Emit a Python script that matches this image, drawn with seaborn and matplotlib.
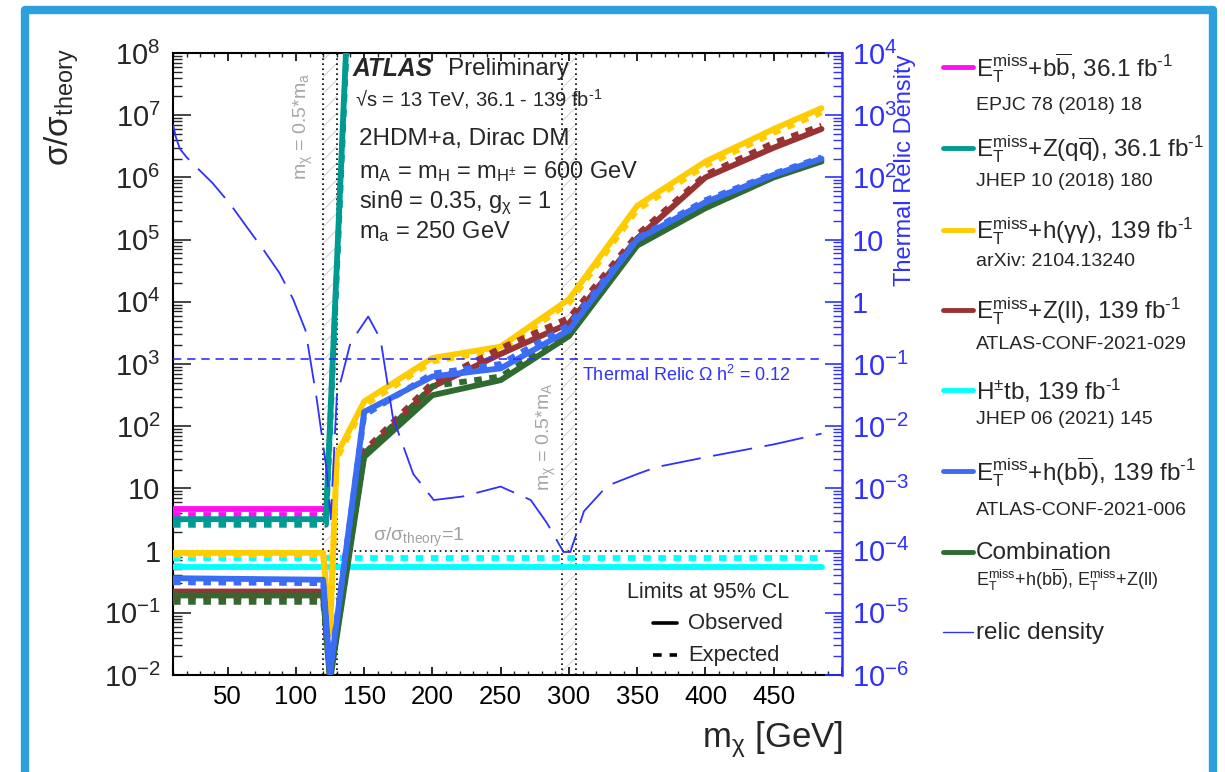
import numpy as np
import pandas as pd
import matplotlib
matplotlib.use("Agg")
import matplotlib.pyplot as plt
import seaborn as sns
from matplotlib.lines import Line2D
from matplotlib.patches import Rectangle
from matplotlib.ticker import LogLocator, FuncFormatter, MultipleLocator, NullFormatter

# ---------------- data ----------------
x_mag = [10, 120]
mag_obs = [4.7, 4.7]
mag_exp = [3.7, 3.7]

x_teal = [10, 122, 137]
teal_obs = [3.2, 3.2, 1.5e8]
teal_exp = [2.6, 2.6, 1.0e8]

x_yel = [10, 120, 125, 130, 150, 200, 250, 300, 350, 400, 450, 485]
yel_obs = [0.92, 0.92, 0.05, 35, 250, 1250, 1900, 1.1e4, 3.5e5, 1.8e6, 6.0e6, 1.3e7]
yel_exp = [0.85, 0.85, 0.045, 30, 215, 1100, 1700, 9.5e3, 3.0e5, 1.55e6, 5.2e6, 1.1e7]

x_lim = [10, 120, 125, 150, 200, 250, 300, 350, 400, 450, 485]
brown_obs = [0.22, 0.22, 0.010, 35, 430, 1450, 4500, 1.05e5, 1.0e6, 3.0e6, 6.0e6]
brown_exp = [0.18, 0.18, 0.012, 40, 500, 1800, 5500, 1.2e5, 1.1e6, 3.6e6, 6.8e6]
blue_obs = [0.36, 0.34, 0.011, 170, 630, 850, 3500, 1.0e5, 4.0e5, 1.1e6, 2.0e6]
blue_exp = [0.31, 0.30, 0.012, 150, 700, 1000, 4200, 1.05e5, 4.3e5, 1.15e6, 2.1e6]
green_obs = [0.19, 0.19, 0.008, 32, 315, 550, 2800, 8.0e4, 3.2e5, 1.0e6, 1.8e6]
green_exp = [0.15, 0.15, 0.009, 36, 440, 630, 3200, 9.0e4, 3.5e5, 1.05e6, 1.9e6]

x_cyan = [10, 485]
cyan_obs = [0.55, 0.55]
cyan_exp = [0.75, 0.75]

x_relic = [10, 12, 15, 20, 28, 39, 52, 64, 76, 88, 98, 107, 115, 122.5, 125.5, 130, 140, 153,
           162, 171, 186, 201, 222, 250, 272, 284, 296, 301, 311, 328, 350, 364, 401, 450, 485]
relic = [710, 450, 290, 210, 140, 81, 37, 16, 7.0, 2.9, 1.1, 0.35, 0.03, 2.0e-3, 3.2e-4, 0.03,
         0.22, 0.58, 0.25, 0.014, 1.7e-3, 6.5e-4, 7.4e-4, 1.07e-3, 6.5e-4, 2.75e-4, 9.5e-5,
         9.5e-5, 4.3e-4, 1.1e-3, 1.7e-3, 2.2e-3, 3.2e-3, 5.1e-3, 7.6e-3]

relic_target = 0.12
x_band_a = [120, 130]
x_band_A = [295, 305]
x_tick_labels = [50, 100, 150, 200, 250, 300, 350, 400, 450]

FB = r"fb$^{\text{-1}}$"
legend_main = [r"E$_{\rm T}^{\rm miss}$+b$\overline{\rm b}$, 36.1 " + FB,
               r"E$_{\rm T}^{\rm miss}$+Z(q$\overline{\rm q}$), 36.1 " + FB,
               r"E$_{\rm T}^{\rm miss}$+h(γγ), 139 " + FB,
               r"E$_{\rm T}^{\rm miss}$+Z(ll), 139 " + FB,
               r"H$^{\text{±}}$tb, 139 " + FB,
               r"E$_{\rm T}^{\rm miss}$+h(b$\overline{\rm b}$), 139 " + FB,
               "Combination",
               "relic density"]
legend_sub = ["EPJC 78 (2018) 18", "JHEP 10 (2018) 180", "arXiv: 2104.13240",
              "ATLAS-CONF-2021-029", "JHEP 06 (2021) 145", "ATLAS-CONF-2021-006",
              r"E$_{\rm T}^{\rm miss}$+h(b$\overline{\rm b}$), E$_{\rm T}^{\rm miss}$+Z(ll)", None]

C_MAG, C_TEAL, C_YEL, C_BROWN = "#ff10f0", "#009a93", "#ffcc00", "#993333"
C_CYAN, C_BLUE, C_GREEN, C_RELIC = "#00ffff", "#3a6cf4", "#2f6a30", "#3030ff"
colors = [C_MAG, C_TEAL, C_YEL, C_BROWN, C_CYAN, C_BLUE, C_GREEN, C_RELIC]

# ---------------- style ----------------
sns.set_theme(style="white")
plt.rcParams["font.family"] = ["Liberation Sans", "DejaVu Sans"]
plt.rcParams["mathtext.fontset"] = "custom"
plt.rcParams["mathtext.rm"] = "Liberation Sans"
plt.rcParams["mathtext.it"] = "Liberation Sans:italic"
plt.rcParams["mathtext.bf"] = "Liberation Sans:bold"
plt.rcParams["hatch.linewidth"] = 0.6

W, H = 1225, 772
fig = plt.figure(figsize=(W / 100, H / 100), dpi=100)
fig.patch.set_facecolor("white")


def fx(x):
    return x / W


def fy(y):
    return 1 - y / H


ax = fig.add_axes([fx(173), fy(675), (842 - 173) / W, (675 - 53) / H])
ax.set_facecolor("white")
ax.set_yscale("log")
ax.set_xlim(10, 500)
ax.set_ylim(1e-2, 1e8)

# bands
for band in (x_band_a, x_band_A):
    ax.axvspan(band[0], band[1], facecolor="none", edgecolor="#c8c8c8", hatch="//", lw=0, zorder=1)
    for xv in band:
        ax.axvline(xv, color="black", ls=(0, (1, 2)), lw=1.2, zorder=2)

# sigma/sigma_theory = 1
ax.plot([10, 485], [1, 1], color="black", ls=(0, (1, 2.2)), lw=1.2, zorder=2)

LW = 4.2
DASH = (0, (1.3, 1.3))


def draw(xs, ys, c, dashed, z):
    sns.lineplot(x=xs, y=ys, ax=ax, color=c, lw=LW, sort=False, estimator=None,
                 linestyle=DASH if dashed else "-", zorder=z, legend=False)


draw(x_cyan, cyan_exp, C_CYAN, True, 3)
draw(x_cyan, cyan_obs, C_CYAN, False, 3)
draw(x_mag, mag_exp, C_MAG, True, 3)
draw(x_mag, mag_obs, C_MAG, False, 3)
draw(x_teal, teal_exp, C_TEAL, True, 4)
draw(x_teal, teal_obs, C_TEAL, False, 4)
draw(x_yel, yel_exp, C_YEL, True, 4)
draw(x_yel, yel_obs, C_YEL, False, 4)
draw(x_lim, brown_exp, C_BROWN, True, 5)
draw(x_lim, brown_obs, C_BROWN, False, 5)
draw(x_lim, green_exp, C_GREEN, True, 5)
draw(x_lim, green_obs, C_GREEN, False, 5)
draw(x_lim, blue_exp, C_BLUE, True, 6)
draw(x_lim, blue_obs, C_BLUE, False, 6)

# right axis
ax2 = ax.twinx()
ax2.set_yscale("log")
ax2.set_ylim(1e-6, 1e4)
ax2.set_xlim(10, 500)
sns.lineplot(x=x_relic, y=relic, ax=ax2, color=C_RELIC, lw=1.3, sort=False, estimator=None,
             linestyle=(0, (22, 7)), legend=False)
ax2.plot([10, 486], [relic_target, relic_target], color=C_RELIC, lw=1.2, ls=(0, (5, 3.5)))


def logfmt(v, pos):
    e = int(round(np.log10(v)))
    if e == 0:
        return "1"
    if e == 1:
        return "10"
    return r"$10^{%d}$" % e


def xfmt(v, pos):
    iv = int(round(v))
    return str(iv) if iv in x_tick_labels else ""


for a in (ax, ax2):
    a.yaxis.set_major_locator(LogLocator(base=10, numticks=30))
    a.yaxis.set_minor_locator(LogLocator(base=10, subs=np.arange(2, 10), numticks=200))
    a.yaxis.set_major_formatter(FuncFormatter(logfmt))
    a.yaxis.set_minor_formatter(NullFormatter())
    a.set_xlabel("")
    a.set_ylabel("")

ax.xaxis.set_major_locator(MultipleLocator(50))
ax.xaxis.set_minor_locator(MultipleLocator(10))
ax.xaxis.set_major_formatter(FuncFormatter(xfmt))
ax.tick_params(axis="x", which="major", direction="in", length=6, width=1.2, top=True,
               bottom=True, labelsize=18.5, pad=7, colors="black")
ax.tick_params(axis="x", which="minor", direction="in", length=3, width=1.0, top=True, bottom=True)
ax.tick_params(axis="y", which="major", direction="in", length=13, width=1.2, left=True,
               right=False, labelsize=21, pad=9)
ax.tick_params(axis="y", which="minor", direction="in", length=6.5, width=1.0, left=True, right=False)
ax2.tick_params(axis="y", which="major", direction="in", length=12, width=1.2, left=False,
                right=True, labelsize=21, pad=7, colors=C_RELIC)
ax2.tick_params(axis="y", which="minor", direction="in", length=6.5, width=1.0, left=False,
                right=True, colors=C_RELIC)
ax2.tick_params(axis="x", which="both", bottom=False, top=False, labelbottom=False)

for s in ("left", "bottom", "top"):
    ax.spines[s].set_color("black")
    ax.spines[s].set_linewidth(1.5)
ax.spines["right"].set_visible(False)
ax2.spines["right"].set_color(C_RELIC)
ax2.spines["right"].set_linewidth(1.8)
for s in ("left", "bottom", "top"):
    ax2.spines[s].set_visible(False)

# ---------------- text ----------------
fig.text(fx(62), fy(48), r"σ/σ$_{\rm theory}$", rotation=90, ha="center", va="top", fontsize=24)
fig.text(fx(843), fy(740), r"m$_{\rm χ}$ [GeV]", ha="right", va="center", fontsize=25)
fig.text(fx(905), fy(55), "Thermal Relic Density", rotation=90, ha="center", va="top",
         fontsize=17, color=C_RELIC)

fig.text(fx(352), fy(75.5), "ATLAS", fontsize=17.7, fontweight="bold", style="italic")
fig.text(fx(448), fy(75.5), "Preliminary", fontsize=17.5)
fig.text(fx(355), fy(106), r"√s = 13 TeV, 36.1 - 139 " + FB, fontsize=14.5)
fig.text(fx(359), fy(145), "2HDM+a, Dirac DM", fontsize=17.5)
fig.text(fx(359), fy(178), r"m$_{\rm A}$ = m$_{\rm H}$ = m$_{\rm H^{\pm}}$ = 600 GeV", fontsize=17)
fig.text(fx(359), fy(208), r"sinθ = 0.35, g$_{\rm χ}$ = 1", fontsize=17)
fig.text(fx(359), fy(238), r"m$_{\rm a}$ = 250 GeV", fontsize=17)

fig.text(fx(303), fy(73), r"m$_{\rm χ}$ = 0.5*m$_{\rm a}$", rotation=90, ha="center", va="top",
         fontsize=14, color="#a6a6a6")
fig.text(fx(546), fy(383), r"m$_{\rm χ}$ = 0.5*m$_{\rm A}$", rotation=90, ha="center", va="top",
         fontsize=14, color="#a6a6a6")
fig.text(fx(373), fy(541), r"σ/σ$_{\rm theory}$=1", fontsize=14, color="#a0a0a0")
fig.text(fx(582), fy(381), r"Thermal Relic Ω h$^{\rm 2}$ = 0.12", fontsize=13, color=C_RELIC)

# in-plot legend for line styles
fig.text(fx(627), fy(598), "Limits at 95% CL", fontsize=15.5)
fig.text(fx(688), fy(629), "Observed", fontsize=15.8)
fig.text(fx(688), fy(661), "Expected", fontsize=15.8)
fig.add_artist(Line2D([fx(653), fx(677)], [fy(623), fy(623)], color="black", lw=2.6))
fig.add_artist(Line2D([fx(653), fx(677)], [fy(655), fy(655)], color="black", lw=2.6,
                      ls=(0, (2.4, 2.2))))

# outer legend
handle_y = [67, 148, 230, 310, 390, 471, 552, 632]
sub_y = [110, 186, 266, 349, 424, 515, 586, None]
for i, (lab, sub, c) in enumerate(zip(legend_main, legend_sub, colors)):
    yy = handle_y[i]
    lw = 1.0 if i == 7 else 3.5
    fig.add_artist(Line2D([fx(943), fx(973)], [fy(yy), fy(yy)], color=c, lw=lw))
    fig.text(fx(976), fy(yy + 1), lab, fontsize=17.5, va="center")
    if sub is not None:
        fig.text(fx(976), fy(sub_y[i]), sub, fontsize=13 if i == 6 else 14)

# outer frame
fig.add_artist(Rectangle((fx(25), fy(774)), fx(1213) - fx(25), fy(10) - fy(774),
                         transform=fig.transFigure, fill=False, edgecolor="#2e9fdd",
                         lw=6, joinstyle="round"))

fig.savefig("out.png", dpi=100)
